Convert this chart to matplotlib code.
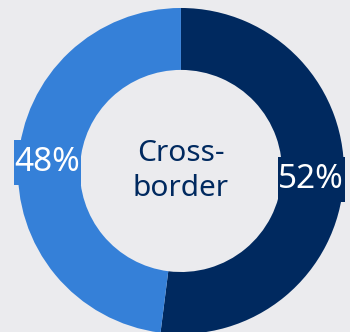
import matplotlib
matplotlib.use('Agg')
import matplotlib.pyplot as plt
from matplotlib.path import Path
import numpy as np

# share of payments
labels = ['Cross-border', 'Domestic']
shares = [52, 48]
colors = ['#00295F', '#3580D8']
center_text = 'Cross-\nborder'

bg = '#EBEBEE'
plt.rcParams['font.family'] = ['Noto Sans', 'DejaVu Sans']


def tall_box(x0, y0, width, height, mutation_size):
    # label box: tight left/right, a little extra room top and bottom
    px = 0.02 * mutation_size
    py = 0.18 * mutation_size
    x0, x1 = x0 - px, x0 + width + px
    y0, y1 = y0 - py, y0 + height + py
    return Path([(x0, y0), (x1, y0), (x1, y1), (x0, y1), (x0, y0)], closed=True)


def main():
    fig = plt.figure(figsize=(3.5, 3.32), dpi=100)
    fig.patch.set_facecolor(bg)
    ax = fig.add_axes([0, 0, 1, 1])
    ax.set_facecolor(bg)

    wedges, _ = ax.pie(shares, colors=colors, startangle=90, counterclock=False,
                       radius=1.0, wedgeprops=dict(width=0.38, linewidth=0))

    # percent labels sit in the middle of the ring, boxed in the wedge colour
    for w, val, c in zip(wedges, shares, colors):
        ang = np.deg2rad((w.theta1 + w.theta2) / 2)
        r = 1.0 - 0.38 / 2
        ax.text(r * np.cos(ang) - 0.01, r * np.sin(ang), f'{val}%', color='white',
                fontsize=24, ha='center', va='center',
                bbox=dict(boxstyle=tall_box, facecolor=c, edgecolor='none'))

    ax.text(0, 0.0, center_text, ha='center', va='center', color=colors[0],
            fontsize=21.5, linespacing=1.25)

    ax.set_xlim(-1.110, 1.037)
    ax.set_ylim(-0.988, 1.049)
    ax.set_aspect('auto')
    ax.axis('off')
    fig.savefig('out.png', dpi=100, facecolor=bg)


if __name__ == '__main__':
    main()
